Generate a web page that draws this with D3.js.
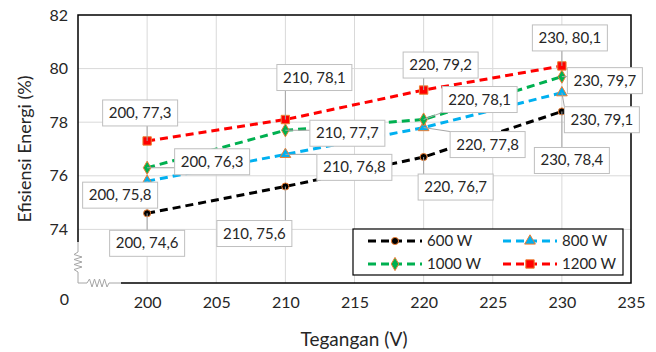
<!DOCTYPE html>
<html>
<head>
<meta charset="utf-8">
<script src="https://cdn.jsdelivr.net/npm/d3@7"></script>
<style>
  body { margin: 0; background: #fff; }
  text { font-family: Lato, "Open Sans", sans-serif; fill: #262626; }
</style>
</head>
<body>
<script>
document.addEventListener('DOMContentLoaded', () => {
  const width = 656;
  const height = 352;

  // data
  const voltages = [200, 210, 220, 230];
  const seriesNames = ['600 W', '800 W', '1000 W', '1200 W'];
  const eff600 = [74.6, 75.6, 76.7, 78.4];
  const eff800 = [75.8, 76.8, 77.8, 79.1];
  const eff1000 = [76.3, 77.7, 78.1, 79.7];
  const eff1200 = [77.3, 78.1, 79.2, 80.1];
  const xTicks = [200, 205, 210, 215, 220, 225, 230, 235];
  const yTicks = [74, 76, 78, 80, 82];

  // layout / style
  const colors = ['#000000', '#00b0f0', '#00b050', '#ff0000'];
  const shapes = [d3.symbolCircle, d3.symbolTriangle, d3.symbolDiamond, d3.symbolSquare];
  const shapeSizes = [40, 50, 50, 70];
  // callout offsets (px) from each point, per series
  const labelOffsets = [
    [[0, 30], [-31, 47], [32, 30], [10, 49]],
    [[-27, 14], [69, 13], [64, 17], [40, 27]],
    [[65, -6], [62, 3], [56, -20], [43, 4]],
    [[-7, -28], [29, -42], [17, -25], [8, -28]]
  ];

  const allSeries = [eff600, eff800, eff1000, eff1200];

  const left = 78, right = 631, top = 15, bottom = 283;

  const x = d3.scaleLinear().domain([195, 235]).range([left, right]);
  const y = d3.scaleLinear().domain([72, 82]).range([bottom, top]);

  const svg = d3.select('body')
    .append('svg')
      .attr('width', width)
      .attr('height', height);

  // grid
  svg.append('g')
    .selectAll('line')
    .data(xTicks.filter(d => d < 235))
    .enter()
    .append('line')
      .attr('x1', d => x(d)).attr('x2', d => x(d))
      .attr('y1', top).attr('y2', bottom)
      .attr('stroke', '#d9d9d9');
  svg.append('g')
    .selectAll('line')
    .data(yTicks.filter(d => d < 82))
    .enter()
    .append('line')
      .attr('x1', left).attr('x2', right)
      .attr('y1', d => y(d)).attr('y2', d => y(d))
      .attr('stroke', '#d9d9d9');

  // frame
  const frame = svg.append('g').attr('stroke', '#000').attr('stroke-width', 1.5).attr('fill', 'none');
  frame.append('path').attr('d', `M${left},242 V${top} H${right} V${bottom} H121`);
  // axis break (zigzag)
  const brk = svg.append('g').attr('stroke', '#a6a6a6').attr('stroke-width', 1).attr('fill', 'none');
  brk.append('path').attr('d', `M${left},242 V252 l-4,2.5 l8,2.5 l-8,2.5 l8,2.5 l-8,2.5 l8,2.5 l-8,2.5 l4,2.5 V${bottom} H87 l2.5,-4 l2.5,8 l2.5,-8 l2.5,8 l2.5,-8 l2.5,8 l2.5,-8 l2.5,8 l2,-4 H121`);

  // axes tick labels
  const xAxis = d3.axisBottom(x).tickValues(xTicks).tickSize(0).tickPadding(14);
  const gx = svg.append('g').attr('transform', `translate(0,${bottom})`).call(xAxis);
  gx.select('.domain').remove();
  gx.selectAll('text').attr('font-size', 16).attr('fill', '#262626').attr('font-family', 'Lato, "Open Sans", sans-serif');

  const yAxis = d3.axisLeft(y).tickValues(yTicks).tickSize(0).tickPadding(10);
  const gy = svg.append('g').attr('transform', `translate(${left},0)`).call(yAxis);
  gy.select('.domain').remove();
  gy.selectAll('text').attr('font-size', 16).attr('fill', '#262626').attr('font-family', 'Lato, "Open Sans", sans-serif');

  svg.append('text')
    .text('0')
    .attr('x', 69).attr('y', 305)
    .attr('text-anchor', 'end')
    .attr('font-size', 16);

  // axis titles
  svg.append('text')
    .text('Tegangan (V)')
    .attr('x', 354).attr('y', 346)
    .attr('text-anchor', 'middle')
    .attr('font-size', 19);
  svg.append('text')
    .text('Efisiensi Energi (%)')
    .attr('transform', 'translate(31,149) rotate(-90)')
    .attr('text-anchor', 'middle')
    .attr('font-size', 18);

  // lines
  const line = d3.line()
    .x((d, i) => x(voltages[i]))
    .y(d => y(d));

  allSeries.forEach((vals, s) => {
    svg.append('path')
      .datum(vals)
      .attr('d', line)
      .attr('fill', 'none')
      .attr('stroke', colors[s])
      .attr('stroke-width', 3)
      .attr('stroke-dasharray', '8,5');
  });

  // markers
  allSeries.forEach((vals, s) => {
    svg.append('g')
      .selectAll('path')
      .data(vals)
      .enter()
      .append('path')
        .attr('d', d3.symbol().type(shapes[s]).size(shapeSizes[s]))
        .attr('transform', (d, i) => `translate(${x(voltages[i])},${y(d)})`)
        .attr('fill', colors[s])
        .attr('stroke', '#ed7d31')
        .attr('stroke-width', 1);
  });

  // callouts
  const boxW = 75, boxH = 26;
  const fmt = v => String(v).replace('.', ',');
  const callouts = svg.append('g');
  allSeries.forEach((vals, s) => {
    vals.forEach((v, i) => {
      const px = x(voltages[i]), py = y(v);
      const cx = px + labelOffsets[s][i][0];
      const cy = py + labelOffsets[s][i][1];
      // nearest point on box edge
      const ex = Math.max(cx - boxW / 2, Math.min(px, cx + boxW / 2));
      const ey = Math.max(cy - boxH / 2, Math.min(py, cy + boxH / 2));
      callouts.append('line')
        .attr('x1', ex).attr('y1', ey)
        .attr('x2', px).attr('y2', py)
        .attr('stroke', '#a6a6a6');
    });
  });
  allSeries.forEach((vals, s) => {
    vals.forEach((v, i) => {
      const px = x(voltages[i]), py = y(v);
      const cx = px + labelOffsets[s][i][0];
      const cy = py + labelOffsets[s][i][1];
      callouts.append('rect')
        .attr('x', cx - boxW / 2).attr('y', cy - boxH / 2)
        .attr('width', boxW).attr('height', boxH)
        .attr('fill', '#fff')
        .attr('stroke', '#bfbfbf');
      callouts.append('text')
        .text(`${voltages[i]}, ${fmt(v)}`)
        .attr('x', cx).attr('y', cy + 5)
        .attr('text-anchor', 'middle')
        .attr('font-size', 15);
    });
  });

  // legend
  const legend = svg.append('g');
  legend.append('rect')
    .attr('x', 353).attr('y', 229)
    .attr('width', 270).attr('height', 46)
    .attr('fill', '#fff')
    .attr('stroke', '#000')
    .attr('stroke-width', 1.2);
  seriesNames.forEach((name, s) => {
    const lx = 368 + (s % 2) * 135;
    const ly = 241 + Math.floor(s / 2) * 23;
    legend.append('line')
      .attr('x1', lx).attr('x2', lx + 54)
      .attr('y1', ly).attr('y2', ly)
      .attr('stroke', colors[s])
      .attr('stroke-width', 3)
      .attr('stroke-dasharray', '8,5');
    legend.append('path')
      .attr('d', d3.symbol().type(shapes[s]).size(shapeSizes[s]))
      .attr('transform', `translate(${lx + 27},${ly})`)
      .attr('fill', colors[s])
      .attr('stroke', '#ed7d31');
    legend.append('text')
      .text(name)
      .attr('x', lx + 59).attr('y', ly + 5)
      .attr('font-size', 15);
  });
});
</script>
</body>
</html>
